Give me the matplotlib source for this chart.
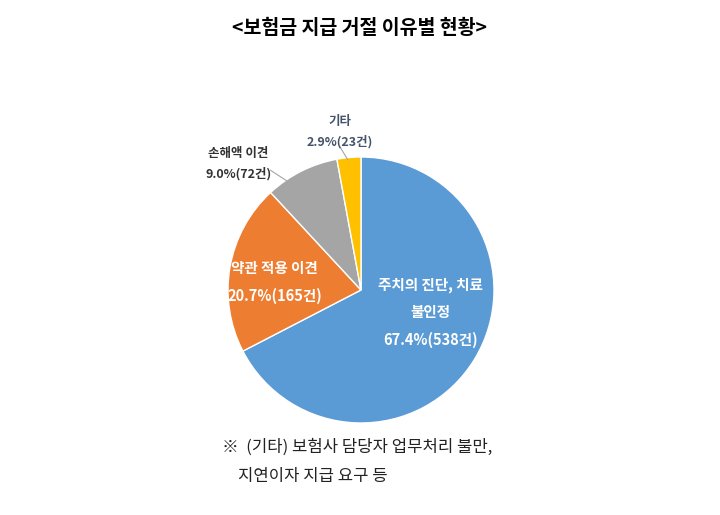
import matplotlib
matplotlib.use("Agg")
import matplotlib.pyplot as plt

plt.rcParams['font.family'] = ['Noto Sans CJK KR', 'DejaVu Sans']

labels = ["주치의 진단, 치료\n불인정", "약관 적용 이견", "손해액 이견", "기타"]
pcts = [67.4, 20.7, 9.0, 2.9]
counts = [538, 165, 72, 23]
colors = ["#5B9BD5", "#ED7D31", "#A5A5A5", "#FFC000"]

fig = plt.figure(figsize=(7.2, 5.15), dpi=100)
fig.text(0.5, 0.945, "<보험금 지급 거절 이유별 현황>", ha="center", va="center",
         fontsize=14, fontweight="bold")

ax = fig.add_axes([228 / 720, 92 / 515, 266 / 720, 266 / 515])
ax.pie(pcts, colors=colors, startangle=90, counterclock=False,
       wedgeprops=dict(edgecolor="white", linewidth=1))
ax.set_xlim(-1, 1)
ax.set_ylim(-1, 1)

def lab(i):
    return f"{labels[i]}\n{pcts[i]}%({counts[i]}건)"

ax.text(0.52, -0.17, lab(0), ha="center", va="center", color="white",
        fontsize=10.5, fontweight="bold", linespacing=1.9)
ax.text(-0.65, 0.06, lab(1), ha="center", va="center", color="white",
        fontsize=10.5, fontweight="bold", linespacing=1.9)
ax.text(-0.92, 0.95, lab(2), ha="center", va="center", color="#333333",
        fontsize=9, fontweight="bold", linespacing=1.7, clip_on=False)
ax.text(-0.16, 1.19, lab(3), ha="center", va="center", color="#44546A",
        fontsize=9, fontweight="bold", linespacing=1.7, clip_on=False)
ax.plot([-0.68, -0.45], [0.9, 0.75], color="#A5A5A5", lw=0.8, clip_on=False)
ax.plot([-0.16, -0.1], [1.08, 0.98], color="#A5A5A5", lw=0.8, clip_on=False)

fig.text(222 / 720, 1 - 447 / 515, "※  (기타) 보험사 담당자 업무처리 불만,",
         ha="left", va="center", fontsize=12, color="#222222")
fig.text(238 / 720, 1 - 476 / 515, "지연이자 지급 요구 등",
         ha="left", va="center", fontsize=12, color="#222222")

fig.savefig("out.png", dpi=100)
